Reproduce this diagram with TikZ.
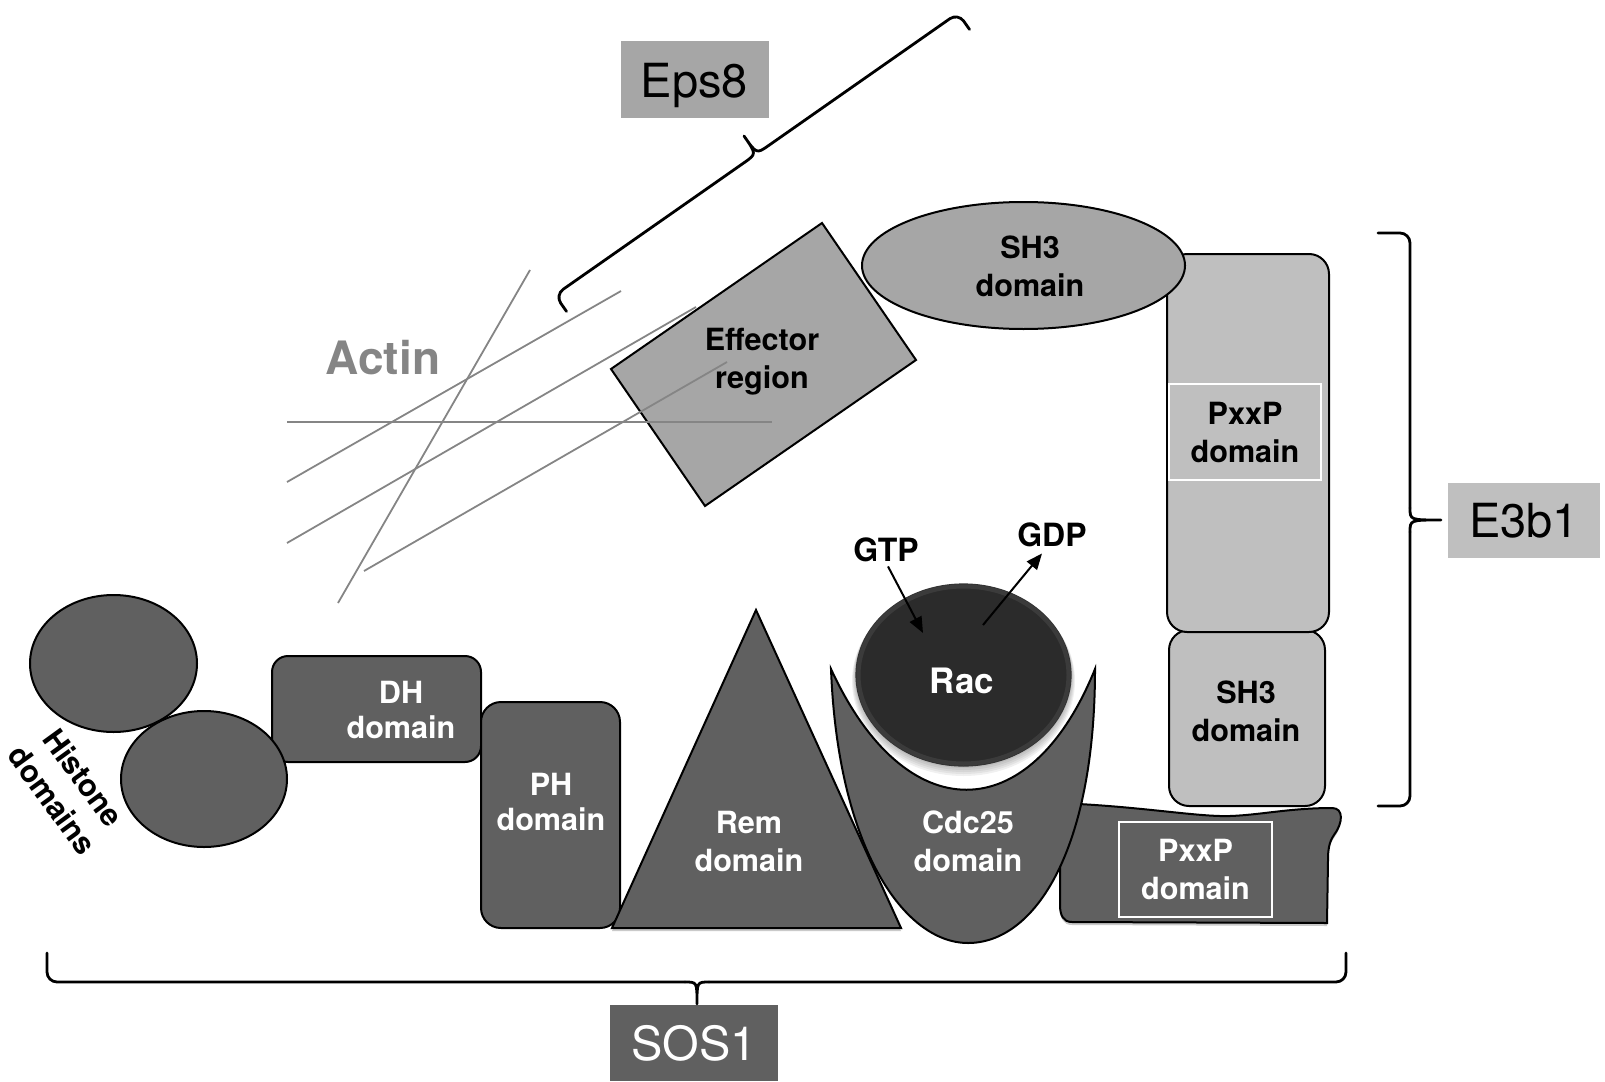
\documentclass[tikz,border=0pt]{standalone}
\usepackage{fontspec}
\setmainfont{TeX Gyre Heros}
\usetikzlibrary{shadows,arrows.meta,calc}
\definecolor{dk}{HTML}{606060}
\definecolor{md}{HTML}{A6A6A6}
\definecolor{lt}{HTML}{BFBFBF}
\definecolor{racc}{HTML}{2B2B2B}
\definecolor{actinc}{HTML}{858585}
\begin{document}
\begin{tikzpicture}[x=0.5pt,y=-0.5pt,
  shp/.style={draw=black, line width=1pt},
  lbl/.style={font=\fontsize{15.3}{19}\selectfont\bfseries, align=center, inner sep=0pt},
  wlbl/.style={lbl, text=white},
  big/.style={font=\fontsize{23.5}{28}\selectfont, inner sep=0pt, text depth=0pt},
  brk/.style={draw=black, line width=1.4pt, line cap=round, line join=round},
  fil/.style={draw=actinc, line width=0.9pt},
  shad/.style={drop shadow={shadow xshift=0pt, shadow yshift=-1.5pt, opacity=0.35, fill=black!60}},
  arr/.style={draw=black, line width=1pt, -{Triangle[length=8pt,width=6.5pt]}},
]
\useasboundingbox (0,0) rectangle (1605,1081);

% ---------- Eps8 label and bracket ----------
\node[big, fill=md, minimum width=74pt, minimum height=38.5pt] (eps8) at (694.5,80) {Eps8};
\coordinate (eh1) at (566.5,311.4);
\coordinate (eb) at (555,295);
\coordinate (ec) at (958,13);
\coordinate (eh2) at (969.5,29.4);
\coordinate (em) at (756.5,154);
\coordinate (et) at (744,136);
\coordinate (ema) at ($(eb)!0.47!(ec)$);
\coordinate (emb) at ($(eb)!0.53!(ec)$);
\draw[brk, rounded corners=5pt] (eh1) -- (eb) -- (ema);
\draw[brk] (ema) .. controls (em) .. (et) .. controls (em) .. (emb);
\draw[brk, rounded corners=5pt] (emb) -- (ec) -- (eh2);

% ---------- Effector region ----------
\draw[shp, fill=md] (611,369) -- (822,223) -- (916,360) -- (705,506) -- cycle;
\node[lbl] (effector) at (762,362) {Effector\\region};

% ---------- Actin ----------
\node[font=\fontsize{23}{28}\selectfont\bfseries, text=actinc, inner sep=0pt] (actin) at (383,358) {Actin};
\draw[fil] (530,270) -- (338,603);
\draw[fil] (621,291) -- (287,482);
\draw[fil] (696,307) -- (287,543);
\draw[fil] (727,362) -- (364,571);
\draw[fil] (287,422) -- (772,422);

% ---------- E3b1 ----------
\draw[shp, fill=dk, shad] (1079,804) .. controls (1150,808) and (1200,817) .. (1230,816)
  .. controls (1260,815) and (1290,808) .. (1332,808)
  .. controls (1344,808) and (1343,823) .. (1334,835)
  .. controls (1329,842) and (1328,850) .. (1328,860)
  -- (1327,923) -- (1072,922)
  .. controls (1063,922) and (1060,915) .. (1060,905)
  -- (1060,862) .. controls (1060,840) and (1068,815) .. cycle;
\node[wlbl, draw=white, line width=0.8pt, minimum width=76.5pt, minimum height=47.5pt] (pxxp2) at (1195.5,869.5) {PxxP\\domain};

\draw[shp, fill=lt, rounded corners=10pt] (1169,630) rectangle (1325,806);
\node[lbl] (sh3b) at (1246,711) {SH3\\domain};
\draw[shp, fill=lt, rounded corners=10pt] (1167,254) rectangle (1329,632);
\node[lbl, draw=white, line width=0.8pt, minimum width=76pt, minimum height=48pt] (pxxp1) at (1245,432) {PxxP\\domain};
\draw[shp, fill=md] (1023.5,265.5) ellipse [x radius=161.5, y radius=63.5];
\node[lbl] (sh3a) at (1030,266) {SH3\\domain};

\node[big, fill=lt, minimum width=76pt, minimum height=37.5pt] (e3b1) at (1524,520.5) {E3b1};
\coordinate (fa) at (1378,233);
\coordinate (fb) at (1410,233);
\coordinate (fc) at (1410,806);
\coordinate (fd) at (1378,806);
\coordinate (fm) at (1410,520);
\coordinate (ft) at (1441,520);
\draw[brk, rounded corners=5pt] (fa) -- (fb) -- (1410,508);
\draw[brk] (1410,508) .. controls (fm) .. (ft) .. controls (fm) .. (1410,532);
\draw[brk, rounded corners=5pt] (1410,532) -- (fc) -- (fd);

% ---------- SOS1 domains ----------
\draw[shp, fill=dk, rounded corners=8pt] (272,656) rectangle (481,762);
\node[wlbl, font=\fontsize{15.3}{17.5}\selectfont\bfseries] (dh) at (401,710) {DH\\domain};
\draw[shp, fill=dk] (113.5,663.5) ellipse [x radius=83.5, y radius=68.5];
\draw[shp, fill=dk] (204,779) ellipse [x radius=83, y radius=68];
\node[lbl, rotate=-54] (histone) at (68,789) {Histone\\domains};

\draw[shp, fill=dk, rounded corners=10pt] (481,702) rectangle (620,928);
\node[wlbl, font=\fontsize{15.3}{17.5}\selectfont\bfseries] (ph) at (551,802) {PH\\domain};

\draw[shp, fill=dk] (831,669) .. controls (838,850) and (905,943) .. (968,943)
  .. controls (1035,943) and (1095,850) .. (1095,669)
  .. controls (1030,830) and (905,830) .. cycle;
\node[wlbl] (cdc) at (968,841) {Cdc25\\domain};

\draw[shp, fill=dk, shad] (756,610) -- (901,928) -- (612,928) -- cycle;
\node[wlbl] (rem) at (749,841) {Rem\\domain};

\foreach \i in {1,...,5}
  \fill[black, opacity=0.06] (963.5,675+1.2*\i) ellipse [x radius=107.5+0.8*\i, y radius=91+0.8*\i];
\draw[draw=black!80, line width=0.6pt, fill=racc] (963.5,675) ellipse [x radius=107.5, y radius=91];
\draw[draw=white, opacity=0.08, line width=2pt] (963.5,675) ellipse [x radius=105, y radius=88.5];
\node[font=\fontsize{17.5}{21}\selectfont\bfseries, text=white, inner sep=0pt] (rac) at (962,681) {Rac};

\node[lbl, font=\fontsize{16}{19}\selectfont\bfseries] (gtp) at (886,550) {GTP};
\node[lbl, font=\fontsize{16}{19}\selectfont\bfseries] (gdp) at (1052,535) {GDP};
\coordinate (racin) at (923,633);
\coordinate (racout) at (983,625);
\draw[arr] ($(gtp.south)+(2,4)$) -- (racin);
\draw[arr] (racout) -- ($(gdp.south)+(-10,6)$);

% ---------- SOS1 label and bracket ----------
\node[big, fill=dk, text=white, minimum width=84pt, minimum height=38pt] (sos1) at (694,1043) {SOS1};
\coordinate (sa) at (47,953);
\coordinate (sb) at (47,982);
\coordinate (sc) at (1346,982);
\coordinate (sd) at (1346,953);
\coordinate (sm) at (697,982);
\coordinate (st) at (697,1004);
\draw[brk, rounded corners=5pt] (sa) -- (sb) -- (685,982);
\draw[brk] (685,982) .. controls (sm) .. (st) .. controls (sm) .. (709,982);
\draw[brk, rounded corners=5pt] (709,982) -- (sc) -- (sd);
\end{tikzpicture}
\end{document}
